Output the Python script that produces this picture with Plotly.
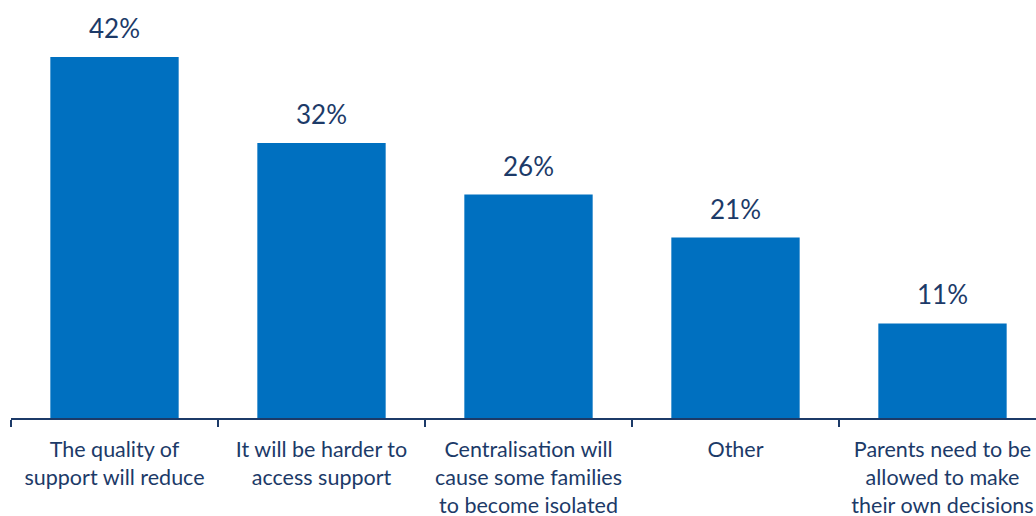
import plotly.graph_objects as go

categories = [
    "The quality of<br>support will reduce",
    "It will be harder to<br>access support",
    "Centralisation will<br>cause some families<br>to become isolated",
    "Other",
    "Parents need to be<br>allowed to make<br>their own decisions",
]
values = [42, 32, 26, 21, 11]
value_labels = ["42%", "32%", "26%", "21%", "11%"]

BAR = "#0070C0"
NAVY = "#1C3A68"
FONT = "Lato, 'Open Sans', sans-serif"

fig = go.Figure(
    go.Bar(
        x=categories,
        y=values,
        marker=dict(color=BAR, line=dict(width=0)),
        width=0.62,
        hoverinfo="skip",
    )
)

for cat, v, lab in zip(categories, values, value_labels):
    fig.add_annotation(
        x=cat, y=v, text=lab, showarrow=False,
        yanchor="bottom", yshift=11,
        font=dict(family=FONT, size=26, color=NAVY),
    )

fig.update_layout(
    width=1036,
    height=516,
    margin=dict(l=11, r=0, t=0, b=98),
    paper_bgcolor="white",
    plot_bgcolor="white",
    showlegend=False,
    font=dict(family=FONT, color=NAVY),
    bargap=0.38,
)

fig.update_xaxes(
    type="category",
    range=[-0.5, -0.5 + 1025 / 207],
    showline=True,
    linecolor=NAVY,
    linewidth=2,
    ticks="outside",
    tickson="boundaries",
    ticklen=7,
    tickwidth=2,
    tickcolor=NAVY,
    tickfont=dict(family=FONT, size=21.5, color=NAVY),
    ticklabelstandoff=11,
    showgrid=False,
    automargin=False,
)
fig.update_yaxes(
    range=[0, 418 / (361 / 42)],
    visible=False,
    showgrid=False,
    zeroline=False,
)

fig.write_html("out.html")
